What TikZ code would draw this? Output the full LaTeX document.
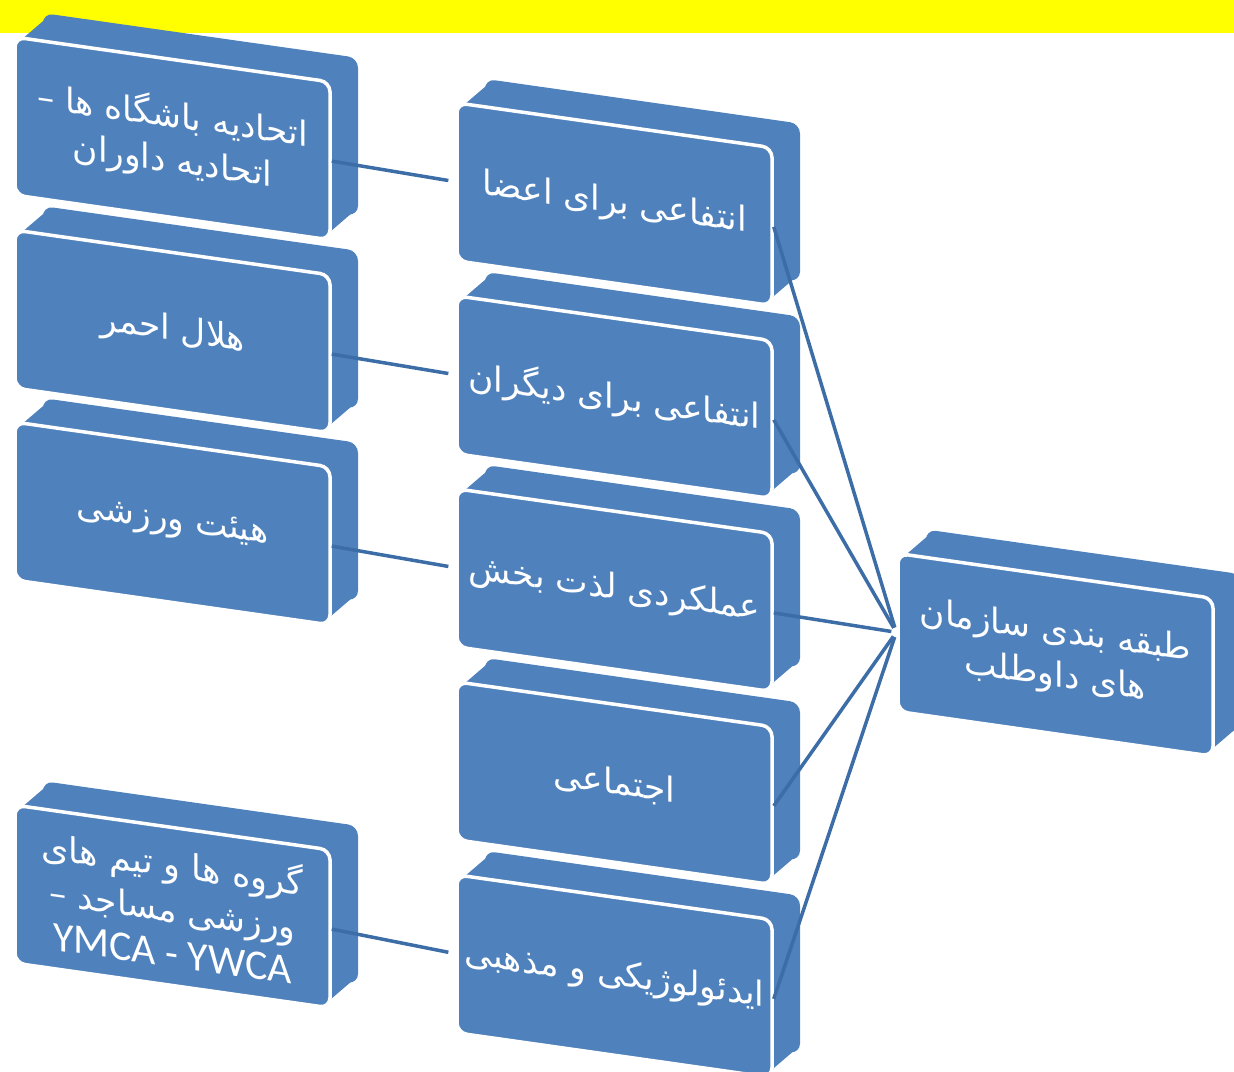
\documentclass[tikz,border=0pt]{standalone}
\usepackage{fontspec}
\setmainfont{DejaVu Sans}
\newfontfamily\arabicfont[Script=Arabic]{DejaVu Sans}
\newfontfamily\latinfont{Carlito}
\TeXXeTstate=1
\definecolor{boxblue}{HTML}{4F81BD}
\definecolor{linkblue}{HTML}{3D6DA6}
\definecolor{bandyellow}{HTML}{FFFF00}
\tikzset{
  frontbox/.style={draw=white, line width=3.5pt, fill=boxblue, rounded corners=10pt,
    minimum width=315pt, minimum height=158pt, inner sep=0pt, text=white,
    align=center, transform shape,
    font=\arabicfont\fontsize{34.5}{45}\selectfont},
  conn/.style={draw=linkblue, line width=3.5pt},
  depth/.style={fill=boxblue}
}
\newcommand{\threedbox}[4]{%
  \fill[depth, rounded corners=10pt] ({#2+28},{#3-28}) rectangle ({#2+343},{#3+130});
  \fill[depth] ({#2+4},{#3+4}) -- ({#2+32},{#3-24}) -- ({#2+339},{#3-24})
     -- ({#2+339},{#3+126}) -- ({#2+311},{#3+154}) -- cycle;
  \node[frontbox] (#1) at ({#2+157.5},{#3+79}) {#4};
}
\begin{document}
\begin{tikzpicture}[x=1pt, y=-1pt]
\useasboundingbox (0,0) rectangle (1234,1071);
\clip (0,0) rectangle (1234,1071);
\fill[bandyellow] (0,0) rectangle (1234,33);
\begin{scope}[yslant=-0.142]
  % left column
  \threedbox{l1}{15}{35}{\beginR اتحادیه باشگاه ها –\endR\\\beginR اتحادیه داوران\endR}
  \threedbox{l2}{15}{228}{\beginR هلال احمر\endR}
  \threedbox{l3}{15}{420}{\beginR هیئت ورزشی\endR}
  \threedbox{l4}{15}{803}{\fontsize{35}{47}\selectfont\beginR گروه ها و تیم های\endR\\\beginR ورزشی مساجد –\endR\\{\latinfont\fontsize{42}{47}\selectfont YMCA - YWCA}}
  % middle column
  \threedbox{m1}{457}{38}{\beginR انتفاعی برای اعضا\endR}
  \threedbox{m2}{457}{231}{\beginR انتفاعی برای دیگران\endR}
  \threedbox{m3}{457}{424}{\beginR عملکردی لذت بخش\endR}
  \threedbox{m4}{457}{617}{\beginR اجتماعی\endR}
  \threedbox{m5}{457}{810}{\beginR ایدئولوژیکی و مذهبی\endR}
  % right
  \threedbox{r}{898}{426}{\beginR طبقه بندی سازمان\endR\\\beginR های داوطلب\endR}
\end{scope}
\draw[conn, shorten >=7pt] (l1.east) -- (m1.west);
\draw[conn, shorten >=7pt] (l2.east) -- (m2.west);
\draw[conn, shorten >=7pt] (l3.east) -- (m3.west);
\draw[conn, shorten >=7pt] (l4.east) -- (m5.west);
\foreach \m in {m1,m2,m3,m4,m5}
  \draw[conn, shorten >=5pt] (\m.east) -- (r.west);
\end{tikzpicture}
\end{document}
